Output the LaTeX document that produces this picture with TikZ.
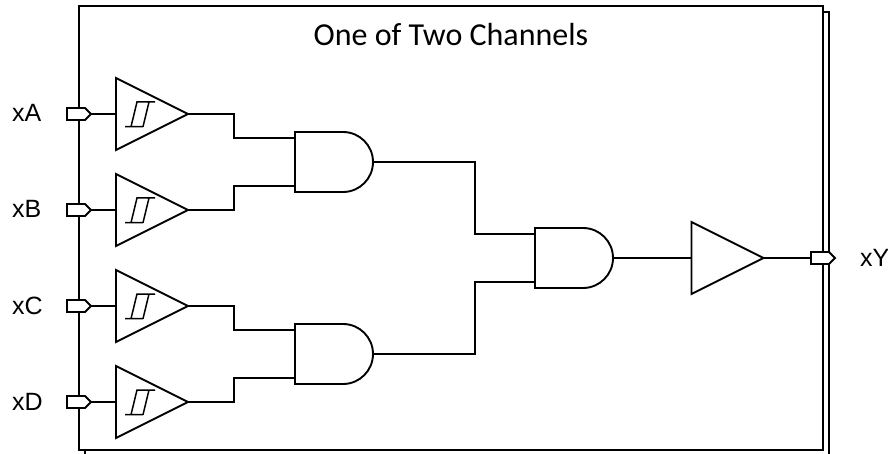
\documentclass[tikz,border=0pt]{standalone}
\usepackage{fontspec}
\setmainfont{Carlito}
\newfontfamily\armo{Liberation Sans}
\tikzset{
  wire/.style={line width=1.8pt,line join=miter,line cap=butt},
  frame/.style={line width=2.2pt},
  gate/.style={line width=1.9pt,fill=white,line join=miter},
  hyst/.style={line width=1.5pt},
  lbl/.style={font=\armo\fontsize{25}{28}\selectfont,inner sep=0pt,anchor=base west},
  ttl/.style={font=\fontsize{32}{36}\selectfont,inner sep=0pt,anchor=base}
}
\newcommand{\buf}[2]{% tip y, name
  \draw[gate] (116,#1-36) -- (188,#1) -- (116,#1+36) -- cycle;
  \coordinate (#2in) at (116,#1);
  \coordinate (#2out) at (188,#1);
  \draw[hyst] (125,#1+12.7) -- (143,#1+12.7) (131,#1+12.7) -- (137,#1-12) -- (155,#1-12) (143,#1+12.7) -- (149,#1-12);
}
\newcommand{\plainbuf}[3]{% x, tip y, name
  \draw[gate] (#1,#2-36) -- (#1+72,#2) -- (#1,#2+36) -- cycle;
  \coordinate (#3in) at (#1,#2);
  \coordinate (#3out) at (#1+72,#2);
}
\newcommand{\port}[3]{% x,y,name
  \draw[gate] (#1,#2-6) -- (#1+18,#2-6) -- (#1+24,#2) -- (#1+18,#2+6) -- (#1,#2+6) -- cycle;
  \coordinate (#3) at (#1+24,#2);
  \coordinate (#3w) at (#1,#2);
}
\newcommand{\andg}[3]{% x, ytop, name
  \draw[gate] (#1,#2) -- (#1+48,#2) arc[start angle=-90,end angle=90,radius=30] -- (#1,#2+60) -- cycle;
  \coordinate (#3o) at (#1+78,#2+30);
  \coordinate (#3a) at (#1,#2+6);
  \coordinate (#3b) at (#1,#2+54);
}
\begin{document}
\begin{tikzpicture}[x=1pt,y=-1pt]
\useasboundingbox (0,0) rectangle (888,454);
\draw[frame] (85,450) -- (85,454) (823,12) -- (829,12) -- (829,454);
\draw[frame] (79,6) rectangle (823,450);
\node[ttl] (title) at (451,46) {One of Two Channels};
\node[lbl] (xa) at (12,122) {xA};
\node[lbl] (xb) at (12,218) {xB};
\node[lbl] (xc) at (12,314) {xC};
\node[lbl] (xd) at (12,410) {xD};
\node[lbl] (xy) at (860,266) {xY};
\port{67}{114}{pa}\port{67}{210}{pb}\port{67}{306}{pc}\port{67}{402}{pd}
\port{811}{258}{py}
\buf{114}{ba}\buf{210}{bb}\buf{306}{bc}\buf{402}{bd}
\andg{295}{132}{ga}
\andg{295}{324}{gb}
\andg{535}{228}{gc}
\plainbuf{691.5}{258}{bo}
\draw[wire] (pa) -- (bain);
\draw[wire] (pb) -- (bbin);
\draw[wire] (pc) -- (bcin);
\draw[wire] (pd) -- (bdin);
\draw[wire] (baout) -- ++(46,0) |- (gaa);
\draw[wire] (bbout) -- ++(46,0) |- (gab);
\draw[wire] (bcout) -- ++(46,0) |- (gba);
\draw[wire] (bdout) -- ++(46,0) |- (gbb);
\draw[wire] (gao) -- ++(102,0) |- (gca);
\draw[wire] (gbo) -- ++(102,0) |- (gcb);
\draw[wire] (gco) -- (boin);
\draw[wire] (boout) -- (pyw);
\end{tikzpicture}
\end{document}
